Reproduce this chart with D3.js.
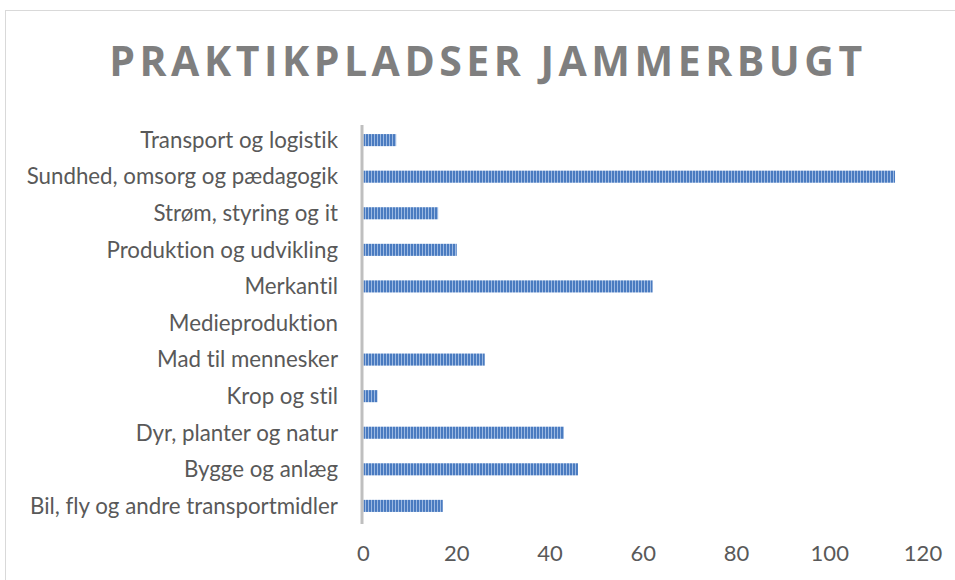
<!DOCTYPE html>
<html>
<head>
<meta charset="utf-8">
<script src="https://cdn.jsdelivr.net/npm/d3@7.9.0/dist/d3.min.js"></script>
<style>
  body { margin: 0; background: #fff; }
  svg { display: block; }
  text { font-variant-ligatures: none; }
</style>
</head>
<body>
<div id="chart"></div>
<script>
const categories = [
  "Transport og logistik",
  "Sundhed, omsorg og pædagogik",
  "Strøm, styring og it",
  "Produktion og udvikling",
  "Merkantil",
  "Medieproduktion",
  "Mad til mennesker",
  "Krop og stil",
  "Dyr, planter og natur",
  "Bygge og anlæg",
  "Bil, fly og andre transportmidler"
];
const values = [7, 114, 16, 20, 62, 0, 26, 3, 43, 46, 17];
const xTicks = [0, 20, 40, 60, 80, 100, 120];

const width = 955, height = 580;
const margin = { top: 122, right: 32, bottom: 56, left: 363.5 };

const svg = d3.select("#chart").append("svg")
    .attr("width", width)
    .attr("height", height);

// stripe pattern for the bars
const pat = svg.append("defs").append("pattern")
    .attr("id", "stripes")
    .attr("patternUnits", "userSpaceOnUse")
    .attr("width", 3).attr("height", 12);
pat.append("rect").attr("width", 3).attr("height", 12).attr("fill", "#9cb9e2");
pat.append("rect").attr("width", 2).attr("height", 12).attr("fill", "#4a7bc0");

// chart frame
svg.append("rect")
    .attr("x", 5.5).attr("y", 10.5)
    .attr("width", 960).attr("height", 600)
    .attr("fill", "none")
    .attr("stroke", "#d9d9d9");

svg.append("text")
    .attr("x", 488).attr("y", 76)
    .attr("text-anchor", "middle")
    .attr("font-family", "Open Sans")
    .attr("font-weight", "bold")
    .attr("font-size", 41)
    .attr("letter-spacing", 4.5)
    .attr("fill", "#7f7f7f")
    .text("PRAKTIKPLADSER JAMMERBUGT");

const x = d3.scaleLinear().domain([0, 120]).range([margin.left, width - margin.right]);
const y = d3.scaleBand().domain(categories)
    .range([margin.top, height - margin.bottom])
    .paddingInner(0.67).paddingOuter(0.33);

svg.append("g").selectAll("rect")
    .data(categories)
    .join("rect")
    .attr("x", x(0))
    .attr("y", d => y(d))
    .attr("width", (d, i) => x(values[i]) - x(0))
    .attr("height", y.bandwidth())
    .attr("fill", "url(#stripes)");

// y axis line
svg.append("line")
    .attr("x1", x(0) - 1.5).attr("x2", x(0) - 1.5)
    .attr("y1", margin.top + 3).attr("y2", height - margin.bottom)
    .attr("stroke", "#bfbfbf")
    .attr("stroke-width", 3);

// category labels
svg.append("g").selectAll("text")
    .data(categories)
    .join("text")
    .attr("x", 338)
    .attr("y", d => y(d) + y.bandwidth() / 2)
    .attr("dy", "0.35em")
    .attr("text-anchor", "end")
    .attr("font-family", "Lato")
    .attr("font-size", 22.3)
    .attr("fill", "#595959")
    .text(d => d);

// x tick labels
svg.append("g").selectAll("text")
    .data(xTicks)
    .join("text")
    .attr("x", d => x(d))
    .attr("y", 561)
    .attr("text-anchor", "middle")
    .attr("font-family", "Lato")
    .attr("font-size", 22)
    .attr("fill", "#595959")
    .text(d => d);
</script>
</body>
</html>
